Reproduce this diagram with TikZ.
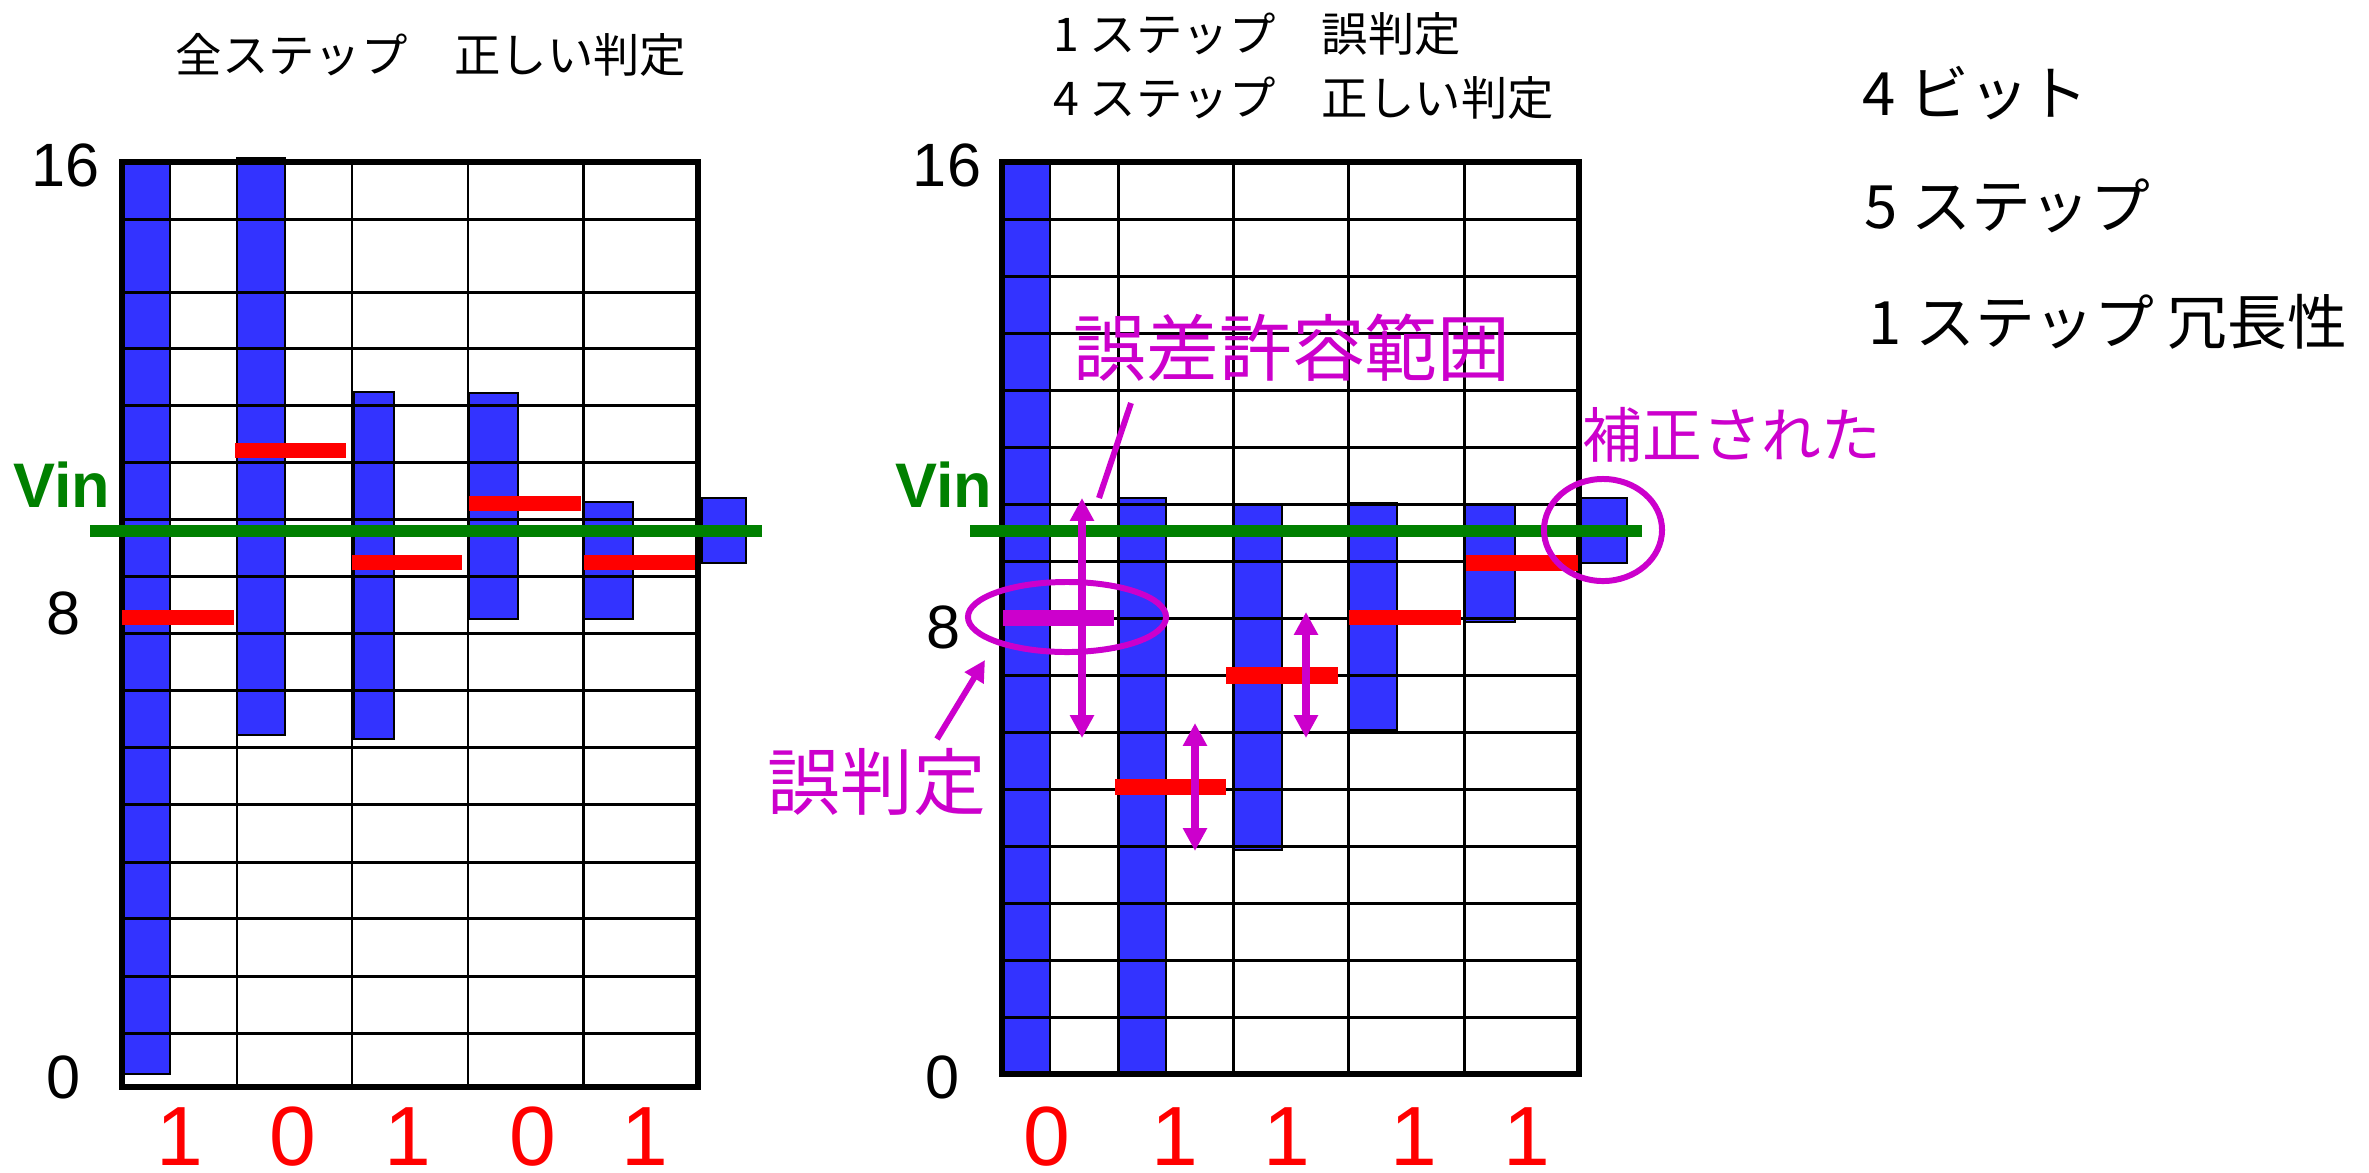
\documentclass[tikz,border=0pt]{standalone}
\usepackage{fontspec}
\setmainfont{Liberation Sans}
\newfontfamily\cjk{Noto Sans CJK JP}
\usetikzlibrary{arrows.meta}
\definecolor{barblue}{RGB}{51,51,255}
\definecolor{redc}{RGB}{255,0,0}
\definecolor{vgreen}{RGB}{0,128,0}
\definecolor{mag}{RGB}{204,0,204}
\begin{document}
\begin{tikzpicture}[x=0.01cm,y=-0.01cm,
  barbox/.style={fill=barblue,draw=black,line width=0.6pt},
  refbar/.style={fill=redc},
  magbar/.style={fill=mag},
  vinline/.style={fill=vgreen},
  thingrid/.style={line width=0.85pt},
  border/.style={line width=1.5pt},
  axlab/.style={font=\fontsize{17.4}{20}\selectfont, inner sep=0pt},
  vinlab/.style={font=\fontsize{17.9}{20}\selectfont\bfseries, text=vgreen, inner sep=0pt},
  bitlab/.style={font=\fontsize{23.9}{28}\selectfont, text=redc, inner sep=0pt},
  ttl/.style={font=\cjk\fontsize{13.2}{16}\selectfont, inner sep=0pt},
  side/.style={font=\cjk\fontsize{17}{20}\selectfont, inner sep=0pt, anchor=west},
  maglab/.style={font=\cjk\fontsize{20.7}{24}\selectfont, text=mag, inner sep=0pt},
  dbl/.style={draw=mag, line width=2pt, {Triangle[length=6.5pt,width=6.5pt]}-{Triangle[length=6.5pt,width=6.5pt]}},
  pointer/.style={draw=mag, line width=1.7pt},
  ring/.style={draw=mag, line width=1.7pt}
]
\useasboundingbox (0,0) rectangle (2369,1172);
\fill[white] (0,0) rectangle (2369,1172);

% ---------------- left chart ----------------
\draw[barbox] (122,162) rectangle (170,1074);
\draw[barbox] (237,158) rectangle (285,735);
\draw[barbox] (354,392) rectangle (394,739);
\draw[barbox] (469,393) rectangle (518,619);
\draw[barbox] (584,502) rectangle (633,619);
\draw[barbox] (702,498) rectangle (746,563);
\foreach \x in {237,352,468,583} \draw[thingrid] (\x,162) -- (\x,1087);
\foreach \y in {219,292,348,405,462,519,576,633,690,747,804,862,918,976,1033}
  \draw[thingrid] (122,\y) -- (698,\y);
\draw[border] (122,162) rectangle (698,1087);
\fill[refbar] (122,610) rectangle (234,625);
\fill[refbar] (235,443) rectangle (346,458);
\fill[refbar] (352,555) rectangle (462,570);
\fill[refbar] (469,496) rectangle (581,511);
\fill[refbar] (584,555) rectangle (695,570);
\fill[vinline] (90,525) rectangle (762,537);

\node[axlab] (l16) at (66,165) {16};
\node[axlab] (l8) at (64,613) {8};
\node[axlab] (l0) at (64,1077) {0};
\node[vinlab] (lvin) at (62,485) {Vin};
\node[bitlab] (lb1) at (180,1137) {1};
\node[bitlab] (lb2) at (293,1137) {0};
\node[bitlab] (lb3) at (408,1137) {1};
\node[bitlab] (lb4) at (533,1137) {0};
\node[bitlab] (lb5) at (645,1137) {1};
\node[ttl] (ltitle) at (431,55) {全ステップ　正しい判定};

% ---------------- right chart ----------------
\draw[barbox] (1002,162) rectangle (1050,1074);
\draw[barbox] (1118,498) rectangle (1166,1074);
\draw[barbox] (1233,505) rectangle (1282,850);
\draw[barbox] (1348,503) rectangle (1397,730);
\draw[barbox] (1464,505) rectangle (1515,622);
\draw[barbox] (1581,498) rectangle (1627,563);
\foreach \x in {1118,1233,1348,1464} \draw[thingrid] (\x,162) -- (\x,1074);
\foreach \k in {1,...,15} \draw[thingrid] (1002,162+57*\k) -- (1579,162+57*\k);
\draw[border] (1002,162) rectangle (1579,1074);
\fill[magbar] (1003,610) rectangle (1114,626);
\fill[refbar] (1115,779) rectangle (1226,795);
\fill[refbar] (1226,667) rectangle (1338,684);
\fill[refbar] (1349,610) rectangle (1461,625);
\fill[refbar] (1466,555) rectangle (1578,571);
\fill[vinline] (970,525) rectangle (1642,537);

\coordinate (a1t) at (1082,498); \coordinate (a1b) at (1082,738);
\coordinate (a2t) at (1195,723); \coordinate (a2b) at (1195,851);
\coordinate (a3t) at (1306,612); \coordinate (a3b) at (1306,738);
\draw[dbl] (a1b) -- (a1t);
\draw[dbl] (a2b) -- (a2t);
\draw[dbl] (a3b) -- (a3t);

\draw[ring] (1067,617) ellipse [x radius=0.99cm, y radius=0.35cm];
\draw[ring] (1603,530) ellipse [x radius=0.59cm, y radius=0.51cm];

\node[axlab] (r16) at (947,165) {16};
\node[axlab] (r8) at (944,627) {8};
\node[axlab] (r0) at (943,1077) {0};
\node[vinlab] (rvin) at (944,485) {Vin};
\node[bitlab] (rb1) at (1047,1137) {0};
\node[bitlab] (rb2) at (1175,1137) {1};
\node[bitlab] (rb3) at (1287,1137) {1};
\node[bitlab] (rb4) at (1414,1137) {1};
\node[bitlab] (rb5) at (1527,1137) {1};
\node[ttl, anchor=west] (rt1) at (1053,34) {1 ステップ　誤判定};
\node[ttl, anchor=west] (rt2) at (1053,98) {4 ステップ　正しい判定};

\node[maglab] (tol) at (1292,348) {誤差許容範囲};
\node[maglab] (err) at (877,782) {誤判定};
\node[font=\cjk\fontsize{17}{20}\selectfont, text=mag, inner sep=0pt] (fix) at (1732,435) {補正された};
\coordinate (tolp) at (1131,403);
\coordinate (tolq) at (1099,498);
\draw[pointer] (tolp) -- (tolq);
\coordinate (errp) at (937,739);
\coordinate (errq) at (985,660);
\draw[pointer, -{Triangle[length=6pt,width=6pt]}] (errp) -- (errq);

% ---------------- side notes ----------------
\node[side] (s1) at (1862,93) {4 ビット};
\node[side] (s2) at (1864,206) {5 ステップ};
\node[side] (s3) at (1868,322) {1 ステップ 冗長性};
\end{tikzpicture}
\end{document}
